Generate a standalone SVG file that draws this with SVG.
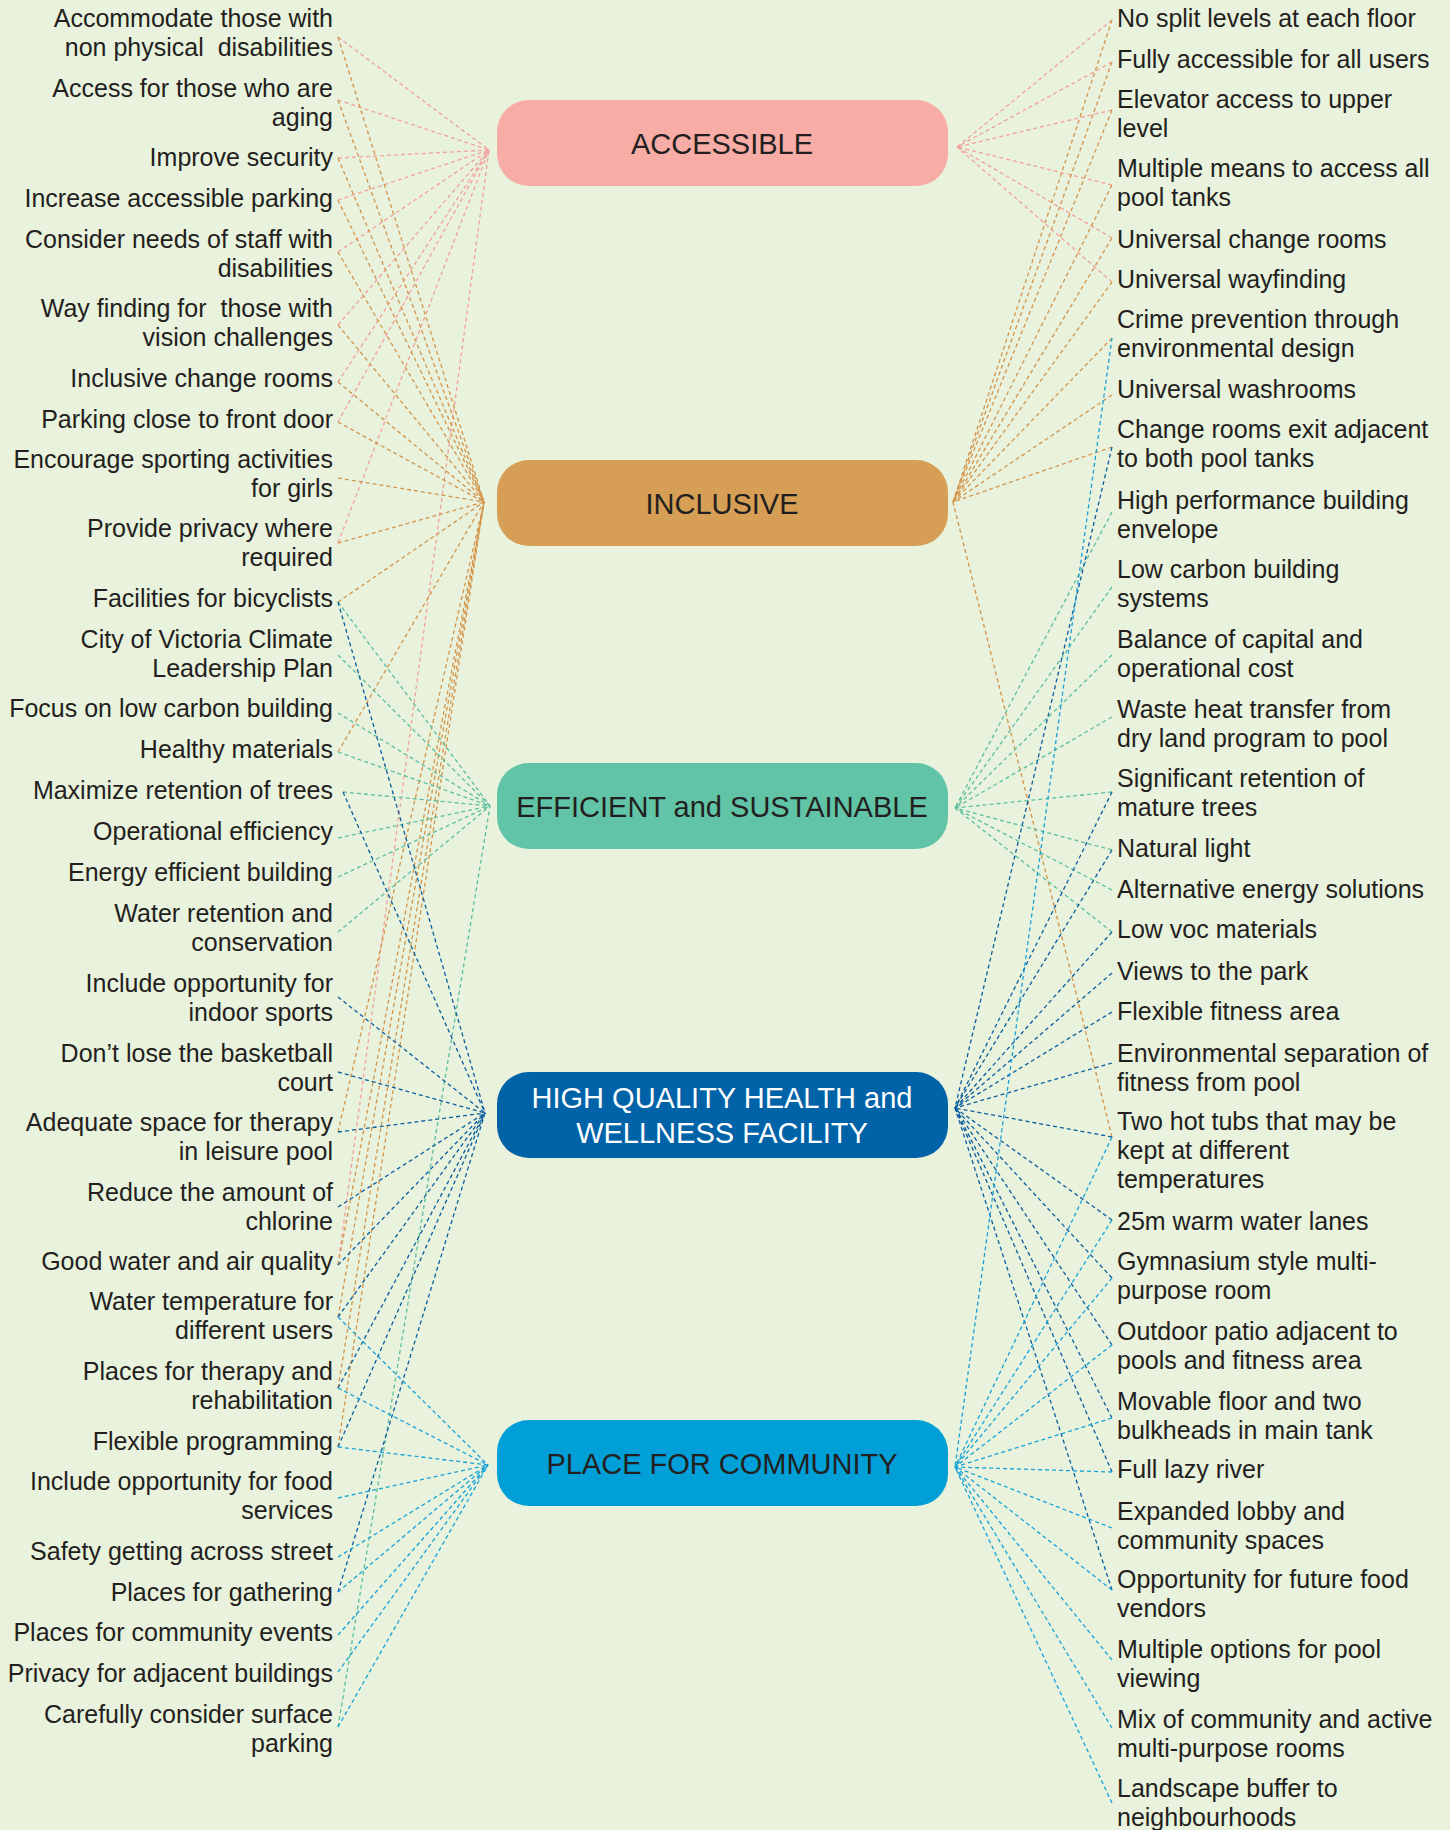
<svg xmlns="http://www.w3.org/2000/svg" width="1450" height="1830" viewBox="0 0 1450 1830">
<style>
.bg{fill:#e9f2dc}
text{font-family:"Liberation Sans",Arial,Helvetica,sans-serif;fill:#231f20}
.l{font-size:25px;text-anchor:end}
.r{font-size:25px;text-anchor:start}
.n{font-size:29px;text-anchor:middle}
.w{fill:#ffffff}
.pre{white-space:pre}
line{fill:none;stroke-width:1.3;stroke-dasharray:4 3}
.pk line{stroke:#f2a19b}
.tn line{stroke:#d3954b}
.tl line{stroke:#5cbf9f}
.db line{stroke:#0b5e9f}
.cy line{stroke:#17a3da}
</style>
<rect class="bg" x="0" y="0" width="1450" height="1830"/>
<g id="connectors">
<g class="pk">
<line x1="338" y1="37" x2="489" y2="150"/>
<line x1="338" y1="100" x2="489" y2="150"/>
<line x1="338" y1="158" x2="489" y2="150"/>
<line x1="338" y1="200" x2="489" y2="150"/>
<line x1="338" y1="252" x2="489" y2="150"/>
<line x1="338" y1="325" x2="489" y2="150"/>
<line x1="338" y1="382" x2="489" y2="150"/>
<line x1="338" y1="422" x2="489" y2="150"/>
<line x1="338" y1="543" x2="489" y2="150"/>
<line x1="338" y1="1265" x2="489" y2="150"/>
<line x1="1112" y1="20" x2="957" y2="147"/>
<line x1="1112" y1="62" x2="957" y2="147"/>
<line x1="1112" y1="110" x2="957" y2="147"/>
<line x1="1112" y1="185" x2="957" y2="147"/>
<line x1="1112" y1="238" x2="957" y2="147"/>
<line x1="1112" y1="282" x2="957" y2="147"/>
</g>
<g class="tn">
<line x1="338" y1="37" x2="484" y2="502"/>
<line x1="338" y1="100" x2="484" y2="502"/>
<line x1="338" y1="158" x2="484" y2="502"/>
<line x1="338" y1="200" x2="484" y2="502"/>
<line x1="338" y1="252" x2="484" y2="502"/>
<line x1="338" y1="325" x2="484" y2="502"/>
<line x1="338" y1="382" x2="484" y2="502"/>
<line x1="338" y1="422" x2="484" y2="502"/>
<line x1="338" y1="478" x2="484" y2="502"/>
<line x1="338" y1="543" x2="484" y2="502"/>
<line x1="338" y1="602" x2="484" y2="502"/>
<line x1="338" y1="752" x2="484" y2="502"/>
<line x1="338" y1="1132" x2="484" y2="502"/>
<line x1="338" y1="1265" x2="484" y2="502"/>
<line x1="338" y1="1317" x2="484" y2="502"/>
<line x1="338" y1="1388" x2="484" y2="502"/>
<line x1="338" y1="1447" x2="484" y2="502"/>
<line x1="1112" y1="20" x2="953" y2="502"/>
<line x1="1112" y1="62" x2="953" y2="502"/>
<line x1="1112" y1="110" x2="953" y2="502"/>
<line x1="1112" y1="185" x2="953" y2="502"/>
<line x1="1112" y1="238" x2="953" y2="502"/>
<line x1="1112" y1="282" x2="953" y2="502"/>
<line x1="1112" y1="338" x2="953" y2="502"/>
<line x1="1112" y1="395" x2="953" y2="502"/>
<line x1="1112" y1="447" x2="953" y2="502"/>
<line x1="1112" y1="1137" x2="953" y2="502"/>
</g>
<g class="tl">
<line x1="338" y1="602" x2="490" y2="806"/>
<line x1="338" y1="655" x2="490" y2="806"/>
<line x1="338" y1="713" x2="490" y2="806"/>
<line x1="338" y1="752" x2="490" y2="806"/>
<line x1="343" y1="792" x2="490" y2="806"/>
<line x1="338" y1="838" x2="490" y2="806"/>
<line x1="338" y1="877" x2="490" y2="806"/>
<line x1="338" y1="932" x2="490" y2="806"/>
<line x1="338" y1="1727" x2="490" y2="806"/>
<line x1="1112" y1="512" x2="955" y2="808"/>
<line x1="1112" y1="587" x2="955" y2="808"/>
<line x1="1112" y1="655" x2="955" y2="808"/>
<line x1="1112" y1="717" x2="955" y2="808"/>
<line x1="1112" y1="792" x2="955" y2="808"/>
<line x1="1112" y1="850" x2="955" y2="808"/>
<line x1="1112" y1="890" x2="955" y2="808"/>
<line x1="1112" y1="932" x2="955" y2="808"/>
</g>
<g class="db">
<line x1="338" y1="602" x2="485" y2="1113"/>
<line x1="343" y1="792" x2="485" y2="1113"/>
<line x1="338" y1="997" x2="485" y2="1113"/>
<line x1="338" y1="1072" x2="485" y2="1113"/>
<line x1="338" y1="1132" x2="485" y2="1113"/>
<line x1="338" y1="1207" x2="485" y2="1113"/>
<line x1="338" y1="1265" x2="485" y2="1113"/>
<line x1="338" y1="1317" x2="485" y2="1113"/>
<line x1="338" y1="1388" x2="485" y2="1113"/>
<line x1="338" y1="1447" x2="485" y2="1113"/>
<line x1="338" y1="1592" x2="485" y2="1113"/>
<line x1="1112" y1="447" x2="955" y2="1108"/>
<line x1="1112" y1="792" x2="955" y2="1108"/>
<line x1="1112" y1="850" x2="955" y2="1108"/>
<line x1="1112" y1="932" x2="955" y2="1108"/>
<line x1="1112" y1="973" x2="955" y2="1108"/>
<line x1="1112" y1="1012" x2="955" y2="1108"/>
<line x1="1112" y1="1063" x2="955" y2="1108"/>
<line x1="1112" y1="1137" x2="955" y2="1108"/>
<line x1="1112" y1="1220" x2="955" y2="1108"/>
<line x1="1112" y1="1278" x2="955" y2="1108"/>
<line x1="1112" y1="1345" x2="955" y2="1108"/>
<line x1="1112" y1="1418" x2="955" y2="1108"/>
<line x1="1112" y1="1472" x2="955" y2="1108"/>
<line x1="1112" y1="1590" x2="955" y2="1108"/>
</g>
<g class="cy">
<line x1="338" y1="1317" x2="488" y2="1465"/>
<line x1="338" y1="1388" x2="488" y2="1465"/>
<line x1="338" y1="1447" x2="488" y2="1465"/>
<line x1="338" y1="1498" x2="488" y2="1465"/>
<line x1="338" y1="1557" x2="488" y2="1465"/>
<line x1="338" y1="1592" x2="488" y2="1465"/>
<line x1="338" y1="1635" x2="488" y2="1465"/>
<line x1="338" y1="1672" x2="488" y2="1465"/>
<line x1="338" y1="1727" x2="488" y2="1465"/>
<line x1="1112" y1="338" x2="955" y2="1467"/>
<line x1="1112" y1="1137" x2="955" y2="1467"/>
<line x1="1112" y1="1220" x2="955" y2="1467"/>
<line x1="1112" y1="1278" x2="955" y2="1467"/>
<line x1="1112" y1="1345" x2="955" y2="1467"/>
<line x1="1112" y1="1418" x2="955" y2="1467"/>
<line x1="1112" y1="1472" x2="955" y2="1467"/>
<line x1="1112" y1="1528" x2="955" y2="1467"/>
<line x1="1112" y1="1590" x2="955" y2="1467"/>
<line x1="1112" y1="1660" x2="955" y2="1467"/>
<line x1="1112" y1="1728" x2="955" y2="1467"/>
<line x1="1112" y1="1803" x2="955" y2="1467"/>
</g>
</g>
<g id="node-accessible">
<rect x="497" y="100" width="451" height="86" rx="32" fill="#f8aca6"/>
<text class="n" x="722" y="154">ACCESSIBLE</text>
</g>
<g id="node-inclusive">
<rect x="497" y="460" width="451" height="86" rx="32" fill="#d69f55"/>
<text class="n" x="722" y="514">INCLUSIVE</text>
</g>
<g id="node-efficient">
<rect x="497" y="763" width="451" height="86" rx="32" fill="#61c4a6"/>
<text class="n" x="722" y="817">EFFICIENT and SUSTAINABLE</text>
</g>
<g id="node-health">
<rect x="497" y="1072" width="451" height="86" rx="32" fill="#0062a7"/>
<text class="n w" x="722" y="1108">HIGH QUALITY HEALTH and</text>
<text class="n w" x="722" y="1143">WELLNESS FACILITY</text>
</g>
<g id="node-community">
<rect x="497" y="1420" width="451" height="86" rx="32" fill="#009fd7"/>
<text class="n" x="722" y="1474">PLACE FOR COMMUNITY</text>
</g>
<g id="left-items">
<text class="l" x="333" y="27">Accommodate those with</text>
<text class="l pre" x="333" y="56" xml:space="preserve">non physical  disabilities</text>
<text class="l" x="333" y="97">Access for those who are</text>
<text class="l" x="333" y="126">aging</text>
<text class="l" x="333" y="166">Improve security</text>
<text class="l" x="333" y="207">Increase accessible parking</text>
<text class="l" x="333" y="248">Consider needs of staff with</text>
<text class="l" x="333" y="277">disabilities</text>
<text class="l pre" x="333" y="317" xml:space="preserve">Way finding for  those with</text>
<text class="l" x="333" y="346">vision challenges</text>
<text class="l" x="333" y="387">Inclusive change rooms</text>
<text class="l" x="333" y="428">Parking close to front door</text>
<text class="l" x="333" y="468">Encourage sporting activities</text>
<text class="l" x="333" y="497">for girls</text>
<text class="l" x="333" y="537">Provide privacy where</text>
<text class="l" x="333" y="566">required</text>
<text class="l" x="333" y="607">Facilities for bicyclists</text>
<text class="l" x="333" y="648">City of Victoria Climate</text>
<text class="l" x="333" y="677">Leadership Plan</text>
<text class="l" x="333" y="717">Focus on low carbon building</text>
<text class="l" x="333" y="758">Healthy materials</text>
<text class="l" x="333" y="799">Maximize retention of trees</text>
<text class="l" x="333" y="840">Operational efficiency</text>
<text class="l" x="333" y="881">Energy efficient building</text>
<text class="l" x="333" y="922">Water retention and</text>
<text class="l" x="333" y="951">conservation</text>
<text class="l" x="333" y="992">Include opportunity for</text>
<text class="l" x="333" y="1021">indoor sports</text>
<text class="l" x="333" y="1062">Don’t lose the basketball</text>
<text class="l" x="333" y="1091">court</text>
<text class="l" x="333" y="1131">Adequate space for therapy</text>
<text class="l" x="333" y="1160">in leisure pool</text>
<text class="l" x="333" y="1201">Reduce the amount of</text>
<text class="l" x="333" y="1230">chlorine</text>
<text class="l" x="333" y="1270">Good water and air quality</text>
<text class="l" x="333" y="1310">Water temperature for</text>
<text class="l" x="333" y="1339">different users</text>
<text class="l" x="333" y="1380">Places for therapy and</text>
<text class="l" x="333" y="1409">rehabilitation</text>
<text class="l" x="333" y="1450">Flexible programming</text>
<text class="l" x="333" y="1490">Include opportunity for food</text>
<text class="l" x="333" y="1519">services</text>
<text class="l" x="333" y="1560">Safety getting across street</text>
<text class="l" x="333" y="1601">Places for gathering</text>
<text class="l" x="333" y="1641">Places for community events</text>
<text class="l" x="333" y="1682">Privacy for adjacent buildings</text>
<text class="l" x="333" y="1723">Carefully consider surface</text>
<text class="l" x="333" y="1752">parking</text>
</g>
<g id="right-items">
<text class="r" x="1117" y="27">No split levels at each floor</text>
<text class="r" x="1117" y="68">Fully accessible for all users</text>
<text class="r" x="1117" y="108">Elevator access to upper</text>
<text class="r" x="1117" y="137">level</text>
<text class="r" x="1117" y="177">Multiple means to access all</text>
<text class="r" x="1117" y="206">pool tanks</text>
<text class="r" x="1117" y="248">Universal change rooms</text>
<text class="r" x="1117" y="288">Universal wayfinding</text>
<text class="r" x="1117" y="328">Crime prevention through</text>
<text class="r" x="1117" y="357">environmental design</text>
<text class="r" x="1117" y="398">Universal washrooms</text>
<text class="r" x="1117" y="438">Change rooms exit adjacent</text>
<text class="r" x="1117" y="467">to both pool tanks</text>
<text class="r" x="1117" y="509">High performance building</text>
<text class="r" x="1117" y="538">envelope</text>
<text class="r" x="1117" y="578">Low carbon building</text>
<text class="r" x="1117" y="607">systems</text>
<text class="r" x="1117" y="648">Balance of capital and</text>
<text class="r" x="1117" y="677">operational cost</text>
<text class="r" x="1117" y="718">Waste heat transfer from</text>
<text class="r" x="1117" y="747">dry land program to pool</text>
<text class="r" x="1117" y="787">Significant retention of</text>
<text class="r" x="1117" y="816">mature trees</text>
<text class="r" x="1117" y="857">Natural light</text>
<text class="r" x="1117" y="898">Alternative energy solutions</text>
<text class="r" x="1117" y="938">Low voc materials</text>
<text class="r" x="1117" y="980">Views to the park</text>
<text class="r" x="1117" y="1020">Flexible fitness area</text>
<text class="r" x="1117" y="1062">Environmental separation of</text>
<text class="r" x="1117" y="1091">fitness from pool</text>
<text class="r" x="1117" y="1130">Two hot tubs that may be</text>
<text class="r" x="1117" y="1159">kept at different</text>
<text class="r" x="1117" y="1188">temperatures</text>
<text class="r" x="1117" y="1230">25m warm water lanes</text>
<text class="r" x="1117" y="1270">Gymnasium style multi-</text>
<text class="r" x="1117" y="1299">purpose room</text>
<text class="r" x="1117" y="1340">Outdoor patio adjacent to</text>
<text class="r" x="1117" y="1369">pools and fitness area</text>
<text class="r" x="1117" y="1410">Movable floor and two</text>
<text class="r" x="1117" y="1439">bulkheads in main tank</text>
<text class="r" x="1117" y="1478">Full lazy river</text>
<text class="r" x="1117" y="1520">Expanded lobby and</text>
<text class="r" x="1117" y="1549">community spaces</text>
<text class="r" x="1117" y="1588">Opportunity for future food</text>
<text class="r" x="1117" y="1617">vendors</text>
<text class="r" x="1117" y="1658">Multiple options for pool</text>
<text class="r" x="1117" y="1687">viewing</text>
<text class="r" x="1117" y="1728">Mix of community and active</text>
<text class="r" x="1117" y="1757">multi-purpose rooms</text>
<text class="r" x="1117" y="1797">Landscape buffer to</text>
<text class="r" x="1117" y="1826">neighbourhoods</text>
</g>
</svg>
